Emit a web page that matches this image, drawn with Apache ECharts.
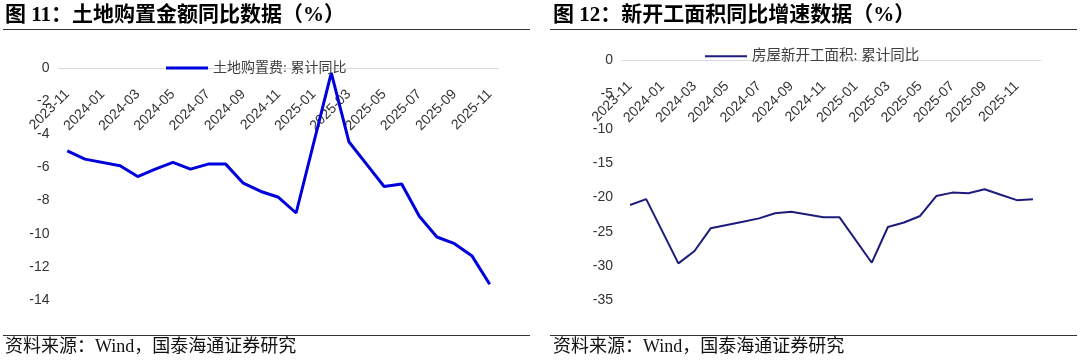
<!DOCTYPE html>
<html>
<head>
<meta charset="utf-8">
<script src="https://cdn.jsdelivr.net/npm/echarts@6/dist/echarts.min.js"></script>
<style>
html,body{margin:0;padding:0;background:#fff;}
#c{width:1080px;height:360px;}
</style>
</head>
<body>
<div id="c"></div>
<script>
// Left panel: land purchase cost, cumulative YoY (%)
const monthsLeft = ['2023-11','2023-12','2024-01','2024-02','2024-03','2024-04','2024-05','2024-06','2024-07','2024-08','2024-09','2024-10','2024-11','2024-12','2025-01','2025-02','2025-03','2025-04','2025-05','2025-06','2025-07','2025-08','2025-09','2025-10','2025-11'];
const landPurchase = [-5.0,-5.5,null,-5.9,-6.55,-6.1,-5.7,-6.1,-5.8,-5.8,-6.95,-7.45,-7.8,-8.75,null,-0.3,-4.45,-5.8,-7.15,-7.0,-8.95,-10.2,-10.6,-11.35,-13.05];
// Right panel: new construction starts area, cumulative YoY (%)
const monthsRight = ['2023-11','2023-12','2024-01','2024-02','2024-03','2024-04','2024-05','2024-06','2024-07','2024-08','2024-09','2024-10','2024-11','2024-12','2025-01','2025-02','2025-03','2025-04','2025-05','2025-06','2025-07','2025-08','2025-09','2025-10','2025-11','2025-12'];
const newStarts = [-21.1,-20.25,null,-29.6,-27.8,-24.5,-24.0,-23.55,-23.05,-22.3,-22.1,-22.5,-22.9,-22.9,null,-29.5,-24.3,-23.65,-22.7,-19.8,-19.3,-19.4,-18.8,-19.6,-20.4,-20.25];

const titleLeft = '图 11：土地购置金额同比数据（%）';
const titleRight = '图 12：新开工面积同比增速数据（%）';
const sourceText = '资料来源：Wind，国泰海通证券研究';
const nameLeft = '土地购置费: 累计同比';
const nameRight = '房屋新开工面积: 累计同比';

const chart = echarts.init(document.getElementById('c'), null, {renderer:'canvas'});
const axisFont = "'Liberation Sans', Arial, sans-serif";
const cjkSerif = "'Liberation Serif', 'Noto Sans CJK SC', serif";

const gridL = {left:58.5, top:68, width:440, height:232};
const gridR = {left:622, top:60, width:419, height:240.5};

function xAxisCfg(gi, data, h){
  return {
    type:'category', gridIndex:gi, data:data, boundaryGap:true,
    position:'bottom', offset:-h,
    axisLine:{onZero:false, lineStyle:{color:'#d9d9d9', width:1}},
    axisTick:{show:false},
    axisLabel:{interval:1, rotate:45, margin:24, fontSize:14, color:'#333', fontFamily:axisFont},
    splitLine:{show:false}
  };
}
function yAxisCfg(gi, min, interval){
  return {
    type:'value', gridIndex:gi, min:min, max:0, interval:interval,
    axisLine:{show:false}, axisTick:{show:false}, splitLine:{show:false},
    axisLabel:{fontSize:14, color:'#333', fontFamily:axisFont, margin:9}
  };
}

const option = {
  animation:false,
  backgroundColor:'#fff',
  grid:[gridL, gridR],
  xAxis:[xAxisCfg(0, monthsLeft, gridL.height), xAxisCfg(1, monthsRight, gridR.height)],
  yAxis:[yAxisCfg(0, -14, 2), yAxisCfg(1, -35, 5)],
  legend:[
    {data:[nameLeft], left:166, top:61, padding:0, icon:'rect', itemWidth:42, itemHeight:3,
     textStyle:{fontSize:14, color:'#404040', fontFamily:cjkSerif}},
    {data:[nameRight], left:705, top:49, padding:0, icon:'rect', itemWidth:42, itemHeight:2,
     textStyle:{fontSize:14.5, color:'#404040', fontFamily:cjkSerif}}
  ],
  series:[
    {name:nameLeft, type:'line', xAxisIndex:0, yAxisIndex:0, data:landPurchase,
     connectNulls:true, symbol:'none', lineStyle:{color:'#0000dd', width:3}, itemStyle:{color:'#0000dd'}},
    {name:nameRight, type:'line', xAxisIndex:1, yAxisIndex:1, data:newStarts,
     connectNulls:true, symbol:'none', lineStyle:{color:'#1c1c7c', width:2}, itemStyle:{color:'#1c1c7c'}}
  ],
  graphic:[
    {type:'text', left:5, top:5, style:{text:titleLeft, fontSize:21, fontWeight:'bold', fontFamily:cjkSerif, fill:'#000'}},
    {type:'text', left:553, top:5, style:{text:titleRight, fontSize:21, fontWeight:'bold', fontFamily:cjkSerif, fill:'#000'}},
    {type:'line', shape:{x1:3, y1:29.5, x2:530, y2:29.5}, style:{stroke:'#333', lineWidth:1.2}},
    {type:'line', shape:{x1:550, y1:29.5, x2:1077, y2:29.5}, style:{stroke:'#333', lineWidth:1.2}},
    {type:'line', shape:{x1:3, y1:335.5, x2:530, y2:335.5}, style:{stroke:'#333', lineWidth:1.2}},
    {type:'line', shape:{x1:550, y1:335.5, x2:1077, y2:335.5}, style:{stroke:'#333', lineWidth:1.2}},
    {type:'text', left:5, top:338, style:{text:sourceText, fontSize:18, fontFamily:cjkSerif, fill:'#111'}},
    {type:'text', left:553, top:338, style:{text:sourceText, fontSize:18, fontFamily:cjkSerif, fill:'#111'}}
  ]
};
chart.setOption(option);
</script>
</body>
</html>
